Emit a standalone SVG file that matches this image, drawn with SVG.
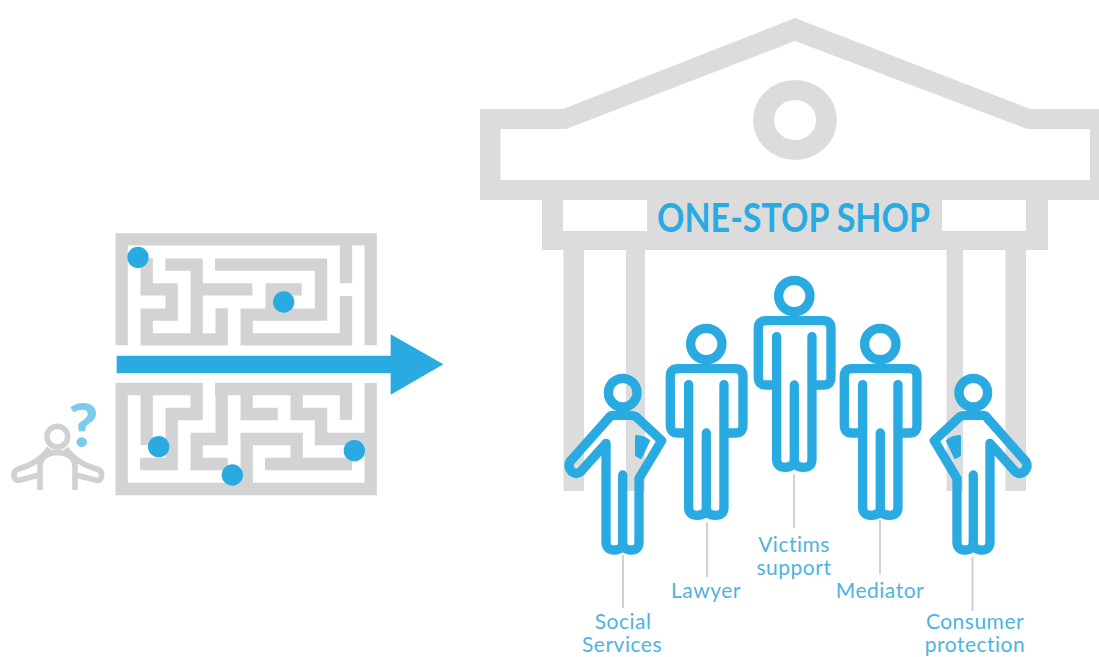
<svg xmlns="http://www.w3.org/2000/svg" width="1099" height="657" viewBox="0 0 1099 657">
<style>
.bld{fill:#dcdcdc}
.wall{fill:none;stroke:#d1d3d4;stroke-width:37}
.dot{fill:#29abe2}
.fig{fill:none;stroke:#29abe2;stroke-width:28;stroke-linecap:round;stroke-linejoin:round}
.leader{stroke:#d0d2d3;stroke-width:2;fill:none}
.lbl{font-family:"Lato","Liberation Sans",sans-serif;font-size:21px;letter-spacing:.5px;fill:#4fb3e0;text-anchor:middle}
.pers{fill:none;stroke:#cfd1d2;stroke-width:17}
</style>
<defs>
<g id="man">
<circle cx="0" cy="0" r="47" class="fig"/>
<path class="fig" d="M-53 122V490Q-53 514 -27 514Q0 514 0 490M0 267V490Q0 514 27 514Q53 514 53 490V122M-53 267H-85Q-108 267 -108 244V97Q-108 74 -85 74H87Q110 74 110 97V244Q110 267 87 267H53"/>
</g>
<g id="hip">
<circle cx="0" cy="0" r="43" class="fig"/>
<path class="fig" d="M-50 152V447Q-50 472 -25 472Q0 472 0 447M0 247V447Q0 472 25 472Q49 472 49 447V257L117 144L40 72Q32 68 22 68H-28Q-38 68 -43 77L-158 207Q-166 222 -153 237Q-138 247 -126 237L-50 152"/>
<path d="M41 131Q62 132 78 144L54 195L41 187Z" fill="#29abe2" stroke="#29abe2" stroke-width="8" stroke-linejoin="round"/>
</g>
</defs>
<rect width="1099" height="657" fill="#fff"/>
<g id="building">
<path class="bld" fill-rule="evenodd" d="M480 109H563L795 18L1030 109H1099V200H480ZM500.500 129V180H1090V129H1027L795 41L566 129Z"/>
<path class="bld" fill-rule="evenodd" d="M753 120a42 40 0 1 0 84 0a42 40 0 1 0 -84 0ZM774 120a21 20 0 1 1 42 0a21 20 0 1 1 -42 0Z"/>
<path class="bld" fill-rule="evenodd" d="M542 200H1048V250H542ZM563 200V231H647V200ZM942 200V231H1026V200Z"/>
<rect class="bld" x="563.500" y="250" width="20.500" height="241"/>
<rect class="bld" x="626" y="250" width="19" height="241"/>
<rect class="bld" x="946.500" y="250" width="16.500" height="241"/>
<rect class="bld" x="1005.500" y="250" width="20.500" height="241"/>
<text x="793.500" y="232" font-family="Lato,'Liberation Sans',sans-serif" font-size="40" font-weight="700" fill="#29abe2" text-anchor="middle" textLength="273" lengthAdjust="spacingAndGlyphs">ONE-STOP SHOP</text>
</g>
<g id="maze" transform="translate(0 220) scale(.33333)">
<g class="wall">
<path d="M365 376V58H1112V376M1038 58V190M1038 228V358H740V284H963V134H645M905 208H815V284M440 115V208H515V284H440V358H683M665 265V358M496 134H590V358M590 208H757"/>
<path d="M365 489V807H1112V489M347 507H590V489M590 507V582H515V732H420M440 507V675M645 507H1038V600M665 507V657H590V732H683M590 657H683M740 825V657H890V732H795M890 732H1056M740 507V582H833M890 507V582H963V657H1112"/>
</g>
<circle class="dot" cx="414" cy="112" r="32"/>
<circle class="dot" cx="851" cy="246" r="32"/>
<circle class="dot" cx="476" cy="680" r="32"/>
<circle class="dot" cx="697" cy="765" r="32"/>
<circle class="dot" cx="1063" cy="692" r="32"/>
<path class="dot" d="M350 407H1172V343L1330 433L1172 524V460H350Z"/>
</g>
<g id="person" transform="translate(0 395) scale(.33333)">
<circle class="pers" cx="172" cy="125" r="31"/>
<path class="pers" d="M120 285V215Q120 175 172 172Q225 175 225 215V285M148 160C125 195 90 212 55 222Q42 226 42 240Q42 258 58 256L118 240M198 160C220 195 255 212 290 222Q305 226 305 240Q305 258 288 256L228 240"/>
<text x="0" y="0" transform="translate(250 155) scale(1.05 1)" font-family="Lato,'Liberation Sans',sans-serif" font-size="185" font-weight="900" fill="#7ccbee" text-anchor="middle">?</text>
</g>
<g id="connectors">
<path class="leader" d="M623 555V608M707 522V577M794 474V528M880 520V574M972.500 557V611"/>
</g>
<g id="social-services">
<use href="#hip" transform="translate(622.700 392.700) scale(.33333)"/>
<text class="lbl" x="623" y="629">Social</text>
<text class="lbl" x="622" y="652">Services</text>
</g>
<g id="lawyer">
<use href="#man" transform="translate(706.300 344) scale(.33333)"/>
<text class="lbl" x="706" y="598">Lawyer</text>
</g>
<g id="victims-support">
<use href="#man" transform="translate(794.300 296) scale(.33333)"/>
<text class="lbl" x="794" y="552">Victims</text>
<text class="lbl" x="794" y="575">support</text>
</g>
<g id="mediator">
<use href="#man" transform="translate(880.300 344) scale(.33333)"/>
<text class="lbl" x="880" y="598">Mediator</text>
</g>
<g id="consumer-protection">
<use href="#hip" transform="translate(973.300 392.700) scale(-.33333 .33333)"/>
<text class="lbl" x="975" y="629">Consumer</text>
<text class="lbl" x="975" y="652">protection</text>
</g>
</svg>
